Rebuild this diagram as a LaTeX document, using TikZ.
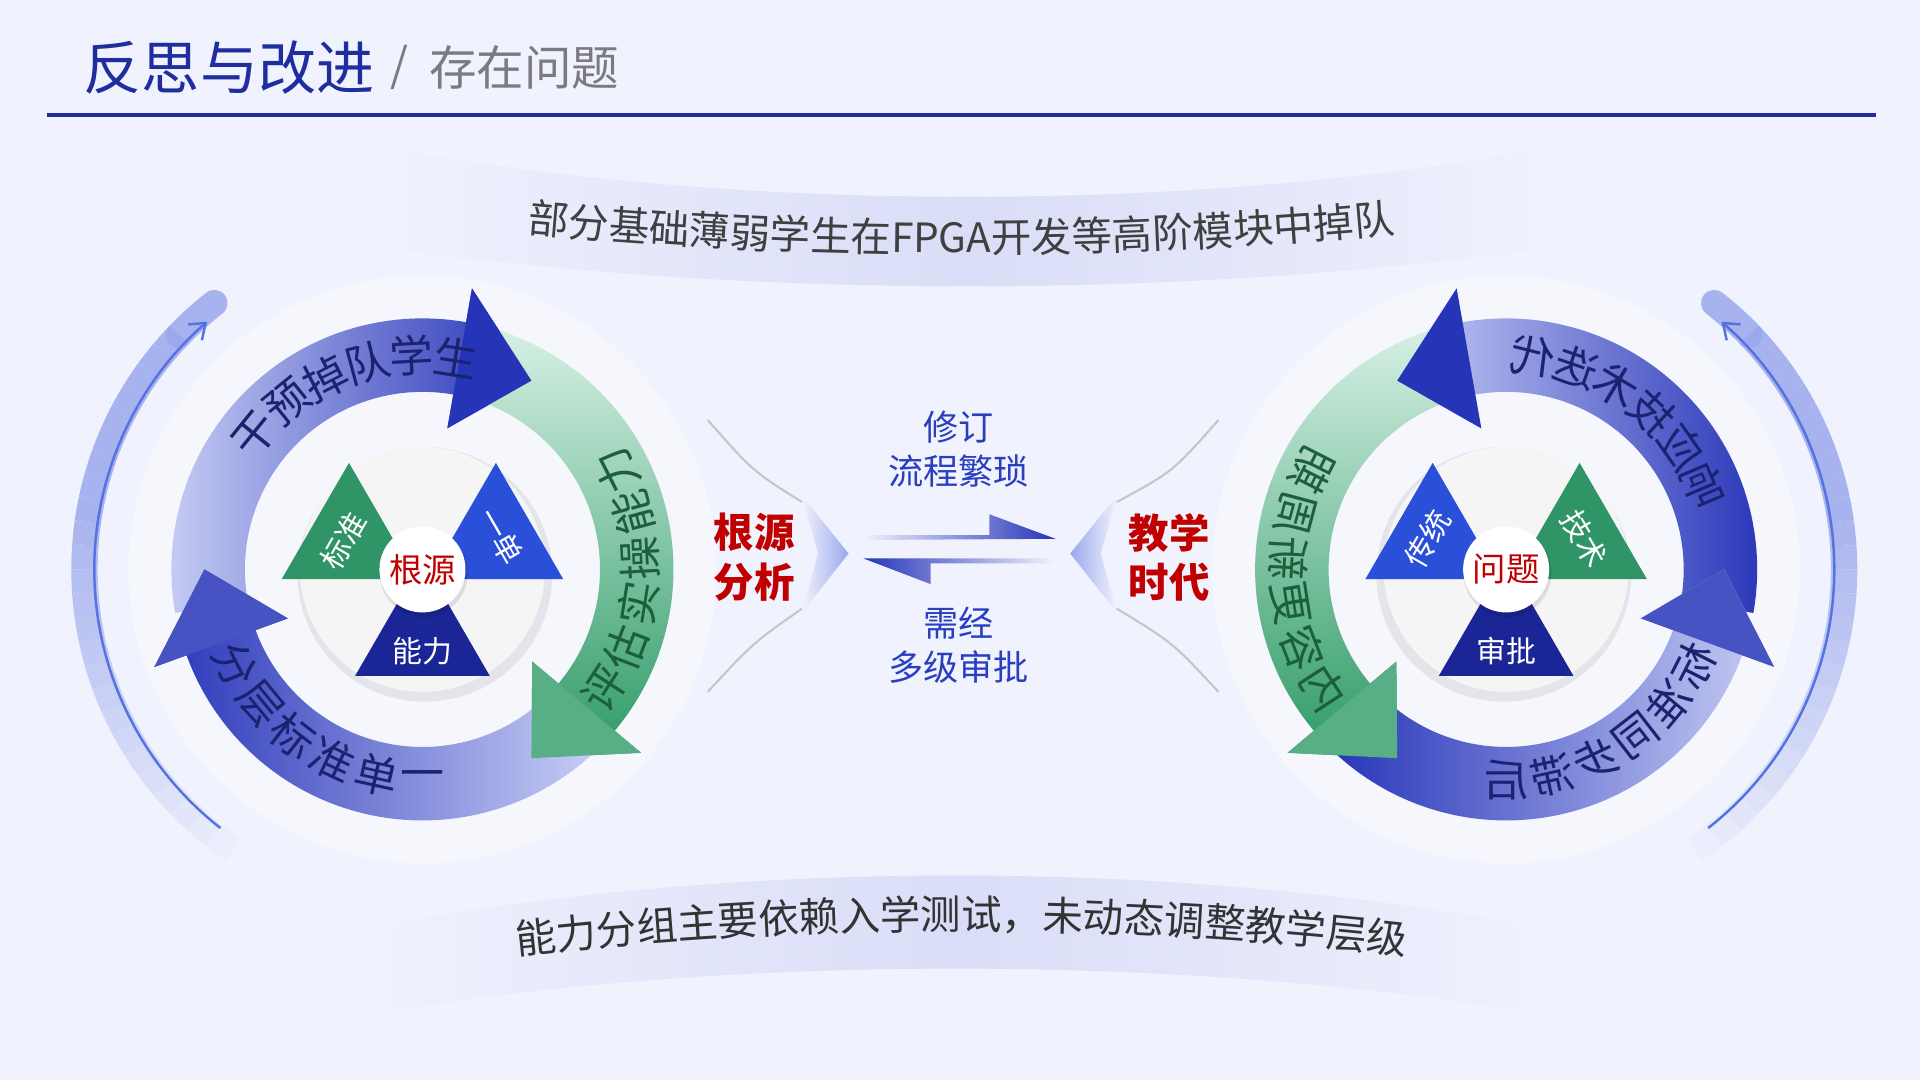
\documentclass[tikz,border=0pt]{standalone}
\usepackage{fontspec}
\setmainfont{Noto Sans CJK SC}
\usepackage{xcolor}
\usetikzlibrary{arrows.meta,positioning,decorations.text}

\definecolor{bgpage}{HTML}{F0F2FD}
\definecolor{titleblue}{HTML}{1F2D9E}
\definecolor{subgray}{HTML}{7A7A80}
\definecolor{bandlav}{HTML}{D9DDF7}
\definecolor{darkblue}{HTML}{2634B8}
\definecolor{lightblue}{HTML}{C9CFF5}
\definecolor{darkgreen}{HTML}{2E9A66}
\definecolor{lightgreen}{HTML}{D6F0E4}
\definecolor{trigreen}{HTML}{2F9466}
\definecolor{triblue}{HTML}{2A4FD8}
\definecolor{trinavy}{HTML}{1A2596}
\definecolor{rootred}{HTML}{C00000}
\definecolor{midblue}{HTML}{2A3FBF}
\definecolor{navytext}{HTML}{1B2270}
\definecolor{greentext}{HTML}{1D5E3C}
\definecolor{outerblue}{HTML}{9AA8EC}

\tikzset{
  arclabel/.style={inner sep=0pt, font=\fontsize{12.5}{13}\selectfont},
  trilabel/.style={inner sep=0pt, text=white, font=\fontsize{8.5}{9}\selectfont},
  redlabel/.style={align=center, text=rootred, font=\fontsize{11.5}{14}\selectfont\bfseries},
  bluelabel/.style={align=center, text=midblue, font=\fontsize{10}{12.5}\selectfont}
}

% ring band with head: start angle, end angle, tip angle
\newcommand{\bandpath}[3]{(#1:205) arc[start angle=#1, end angle=#2, radius=205] -- (#2:233) -- (#3:178) -- (#2:117) -- (#2:145) arc[start angle=#2, end angle=#1, radius=145] -- cycle}
\newcommand{\headpath}[3]{(#2:233) -- (#3:178) -- (#2:117) -- cycle}

\begin{document}
\begin{tikzpicture}[x=0.012245cm, y=-0.012245cm]
  \useasboundingbox (0,0) rectangle (1568,882);
  \fill[bgpage] (0,0) rectangle (1568,882);

  % title
  \node[anchor=west, inner sep=0pt, text=titleblue, font=\fontsize{16.5}{18}\selectfont] (title) at (68,55) {反思与改进};
  \node[anchor=west, inner sep=0pt, text=subgray, font=\fontsize{13}{15}\selectfont] (slash) at (318,55) {/};
  \node[anchor=west, inner sep=0pt, text=subgray, font=\fontsize{13.5}{15}\selectfont] (subtitle) at (350,55) {存在问题};
  \draw[titleblue, line width=1.1pt] (38,94) -- (1532,94);

  % banners
  \shade[left color=bgpage, right color=bgpage, middle color=bandlav]
    (300,118) .. controls (600,175) and (980,175) .. (1280,118)
    -- (1280,200) .. controls (980,245) and (600,245) .. (300,200) -- cycle;
  \path[decorate, decoration={text along path, text color=black!75, text align=center,
      text={|\fontsize{11.5}{13}\selectfont|部分基础薄弱学生在FPGA开发等高阶模块中掉队}}]
    (370,184) .. controls (650,214) and (920,214) .. (1200,184);
  \shade[left color=bgpage, right color=bgpage, middle color=bandlav]
    (290,760) .. controls (590,700) and (970,700) .. (1270,760)
    -- (1270,830) .. controls (970,778) and (590,778) .. (290,830) -- cycle;
  \path[decorate, decoration={text along path, text color=black!80, text align=center,
      text={|\fontsize{11.5}{13}\selectfont|能力分组主要依赖入学测试，未动态调整教学层级}}]
    (370,786) .. controls (650,750) and (920,750) .. (1200,786);

  % rings (right one mirrored)
  \foreach \sgn/\cx/\tstart/\ttext/\gtext/\btext in {
      1/345/141/{干,预,掉,队,学,生}/{评,估,实,操,能,力}/{分,层,标,准,单,一},
      -1/1230/157/{响,应,技,术,迭,代}/{内,容,更,新,周,期}/{标,准,同,步,滞,后}} {
    \begin{scope}[shift={(\cx,465)}, xscale=\sgn, yscale=-1]
      \fill[white, opacity=.45] (0,0) circle[radius=240];
      % outer thin arc
      \foreach \a in {240,236,...,140} {
        \pgfmathsetmacro\op{min(0.85,(240-\a)/80)}
        \draw[outerblue, line width=7.5pt, opacity=\op] (\a:276) arc[start angle=\a, end angle=\a-4, radius=276];
      }
      \draw[outerblue, line width=7.5pt, opacity=.85, line cap=round] (136:276) arc[start angle=136, end angle=128, radius=276];
      \draw[triblue!80, line width=.7pt, -{Straight Barb[length=4pt,width=6pt]}] (232:268) arc[start angle=232, end angle=131, radius=268];
      % bands
      \shade[left color=lightblue, right color=darkblue] \bandpath{190}{80}{60};
      \shade[top color=lightgreen, bottom color=darkgreen] \bandpath{75}{-40}{-60};
      \shade[left color=darkblue, right color=lightblue] \bandpath{-45}{-160}{-180};
      \fill[darkblue] \headpath{190}{80}{60};
      \fill[darkgreen!80] \headpath{75}{-40}{-60};
      \fill[darkblue!85] \headpath{-45}{-160}{-180};
      % band texts
      \foreach \ch [count=\i] in \ttext {
        \pgfmathsetmacro\ang{\tstart-(\i-1)*12}
        \node[arclabel, text=navytext, rotate=\sgn*(\ang-90), xscale=\sgn] at (\ang:175) {\ch};
      }
      \foreach \ch [count=\i] in \gtext {
        \pgfmathsetmacro\ang{-33+(\i-1)*12}
        \node[arclabel, text=greentext, rotate=\sgn*(\ang+90), xscale=\sgn] at (\ang:178) {\ch};
      }
      \foreach \ch [count=\i] in \btext {
        \pgfmathsetmacro\ang{207+(\i-1)*12.6}
        \node[arclabel, text=navytext, rotate=\sgn*(\ang+90), xscale=\sgn] at (\ang:172) {\ch};
      }
      % pie
      \fill[black, opacity=.07] (2,-4) circle[radius=104];
      \fill[gray!8] (0,0) circle[radius=100];
    \end{scope}
  }

  % left pie
  \fill[trigreen] (230,473) -- (285,378) -- (340,473) -- cycle;
  \fill[triblue] (350,473) -- (405,378) -- (460,473) -- cycle;
  \fill[trinavy] (290,552) -- (345,457) -- (400,552) -- cycle;
  \fill[black, opacity=.1] (346,468) circle[radius=36];
  \node[circle, fill=white, minimum size=0.86cm, inner sep=0pt, text=rootred, font=\fontsize{9.5}{10}\selectfont] (rootc) at (345,465) {根源};
  \node[trilabel, rotate=60] (lstd) at (281,442) {标准};
  \node[trilabel, rotate=-60, xscale=-1] (lsingle) at (409,438) {单一};
  \node[trilabel] (lability) at (345,532) {能力};

  % right pie
  \fill[triblue] (1115,473) -- (1170,378) -- (1225,473) -- cycle;
  \fill[trigreen] (1235,473) -- (1290,378) -- (1345,473) -- cycle;
  \fill[trinavy] (1175,552) -- (1230,457) -- (1285,552) -- cycle;
  \fill[black, opacity=.1] (1231,468) circle[radius=36];
  \node[circle, fill=white, minimum size=0.86cm, inner sep=0pt, text=rootred, font=\fontsize{9.5}{10}\selectfont] (probc) at (1230,465) {问题};
  \node[trilabel, rotate=60] (rtrad) at (1166,440) {传统};
  \node[trilabel, rotate=-60] (rtech) at (1294,440) {技术};
  \node[trilabel] (rappr) at (1230,532) {审批};

  % middle
  \draw[gray!45, line width=.6pt] (578,343) .. controls (615,385) .. (655,410);
  \draw[gray!45, line width=.6pt] (578,565) .. controls (615,525) .. (655,497);
  \draw[gray!45, line width=.6pt] (995,343) .. controls (958,385) .. (912,410);
  \draw[gray!45, line width=.6pt] (995,565) .. controls (958,525) .. (912,497);
  \shade[left color=bgpage, right color=outerblue] (655,405) -- (693,452) -- (655,500) -- (668,452) -- cycle;
  \shade[right color=bgpage, left color=outerblue] (912,405) -- (874,452) -- (912,500) -- (899,452) -- cycle;
  \node[redlabel] (rootan) at (616,455) {根源\\分析};
  \node[redlabel] (teachera) at (955,455) {教学\\时代};
  \shade[left color=bgpage, right color=darkblue] (705,437) -- (808,437) -- (808,420) -- (862,440) -- (705,441) -- cycle;
  \shade[left color=darkblue, right color=bgpage] (705,456) -- (860,456) -- (860,460) -- (760,460) -- (760,477) -- cycle;
  \node[bluelabel] (revise) at (783,367) {修订\\流程繁琐};
  \node[bluelabel] (approve) at (783,527) {需经\\多级审批};
\end{tikzpicture}
\end{document}
